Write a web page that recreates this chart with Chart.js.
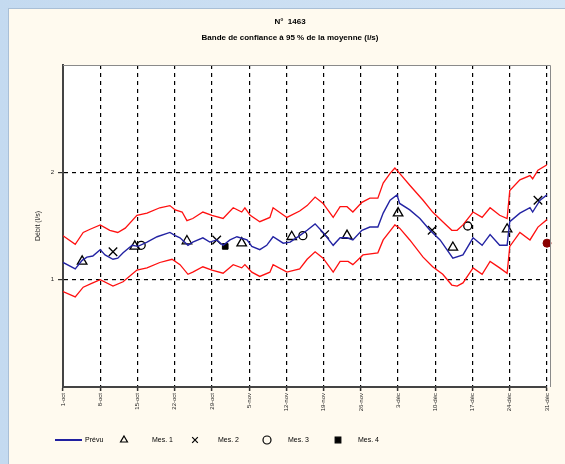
<!DOCTYPE html>
<html>
<head>
<meta charset="utf-8">
<script src="https://cdn.jsdelivr.net/npm/chart.js@4/dist/chart.umd.min.js"></script>
<style>
  html, body { margin: 0; padding: 0; width: 565px; height: 464px; overflow: hidden; }
  body { background: linear-gradient(90deg, #c4daf0, #d3e4f5); position: relative; }
  #panel { position: absolute; left: 8px; top: 8px; right: 0; bottom: 0;
           background: #fffaef; border-left: 1px solid #a9bfd6; border-top: 1px solid #a9bfd6; }
  #c { position: absolute; left: 0; top: 0; }
</style>
</head>
<body>
<div id="panel"></div>
<canvas id="c" width="565" height="464"></canvas>
<script>
// Title, axis and legend texts
const titleLines = ['N°  1463', 'Bande de confiance à 95 % de la moyenne (l/s)'];
const yTitle = 'Débit (l/s)';
const legendNames = ['Prévu', 'Mes. 1', 'Mes. 2', 'Mes. 3', 'Mes. 4'];

// Weekly date ticks (day offsets 0, 7, 14 ... 91)
const tickDays = [0, 7, 14, 21, 28, 35, 42, 49, 56, 63, 70, 77, 84, 91];
const tickLabels = ['1-oct', '8-oct', '15-oct', '22-oct', '29-oct', '5-nov', '12-nov',
                    '19-nov', '26-nov', '3-déc', '10-déc', '17-déc', '24-déc', '31-déc'];
const yTickValues = [1, 2];

// Mean curve: day offset and value
const meanDays = [0, 2.3, 3.6, 4.5, 5.6, 7, 7.9, 9.4, 10.3, 11.3, 13, 14.1, 15.8, 17.7, 20.1, 21.1, 22,
  23.5, 24.4, 26.3, 27.6, 28.9, 30.1, 31.4, 32.7, 34.6, 35.5, 37, 38.3, 39.5, 41.4, 42.7, 44.5, 45.9,
  47.4, 48.9, 50.8, 52.1, 53.4, 54.5, 56.2, 57.7, 59.2, 60.2, 61.5, 62.8, 63.3, 65.2, 67.1, 69, 70.9,
  73.3, 75.2, 77.1, 78.8, 80.3, 82.1, 83.5, 84, 85.9, 87.8, 88.3, 89.7, 91];
const meanVals = [1.16, 1.10, 1.18, 1.21, 1.22, 1.28, 1.23, 1.19, 1.20, 1.25, 1.32, 1.31, 1.35, 1.40,
  1.44, 1.41, 1.39, 1.32, 1.35, 1.39, 1.35, 1.37, 1.32, 1.37, 1.40, 1.37, 1.31, 1.28, 1.32, 1.40, 1.34,
  1.35, 1.41, 1.46, 1.52, 1.44, 1.32, 1.39, 1.39, 1.37, 1.46, 1.49, 1.49, 1.62, 1.74, 1.79, 1.71, 1.65,
  1.57, 1.46, 1.37, 1.20, 1.23, 1.39, 1.32, 1.42, 1.32, 1.32, 1.54, 1.62, 1.67, 1.63, 1.74, 1.79];

// Upper confidence bound
const upperDays = [0, 2.3, 3.8, 5.1, 7, 8.8, 10.3, 11.7, 13.9, 15.8, 18.2, 20.1, 21.1, 22.4, 23.3, 24.4,
  26.3, 28, 30.1, 32, 33.6, 34.2, 35.2, 37, 38.9, 39.5, 42.1, 44.5, 45.9, 47.4, 48.9, 50.8, 52.1, 53.4,
  54.5, 56.2, 57.7, 59.2, 60.2, 61.5, 62.4, 63.3, 65.2, 67.7, 69.5, 71.4, 73.1, 74.1, 75.2, 77.1, 78.8,
  80.3, 82.1, 83.5, 84, 85.9, 87.8, 88.3, 89.3, 91];
const upperVals = [1.41, 1.33, 1.44, 1.47, 1.51, 1.46, 1.44, 1.48, 1.60, 1.62, 1.67, 1.69, 1.65, 1.63,
  1.55, 1.57, 1.63, 1.60, 1.57, 1.67, 1.63, 1.67, 1.60, 1.54, 1.58, 1.67, 1.58, 1.64, 1.69, 1.77, 1.71,
  1.58, 1.68, 1.68, 1.63, 1.72, 1.76, 1.76, 1.90, 1.99, 2.04, 1.99, 1.88, 1.74, 1.63, 1.54, 1.46, 1.46,
  1.51, 1.63, 1.58, 1.67, 1.60, 1.57, 1.83, 1.93, 1.97, 1.94, 2.02, 2.07];

// Lower confidence bound
const lowerDays = [0, 2.3, 3.8, 5.6, 7, 9.4, 11.3, 13.9, 15.8, 18.2, 20.5, 22, 23.5, 24.4, 26.3, 28,
  30.1, 32, 33.6, 34.2, 35.5, 37, 38.9, 39.5, 42.1, 44.5, 45.9, 47.4, 48.9, 50.8, 52.1, 53.6, 54.5,
  56.4, 59.2, 60.2, 62.4, 63.3, 65.2, 67.7, 69.5, 71.4, 73.1, 74.1, 75.2, 77.1, 78.8, 80.3, 82.1, 83.5,
  84, 85.9, 87.8, 89.3, 91];
const lowerVals = [0.89, 0.84, 0.93, 0.97, 1.00, 0.94, 0.98, 1.09, 1.11, 1.16, 1.19, 1.14, 1.05, 1.07,
  1.12, 1.09, 1.06, 1.14, 1.11, 1.14, 1.07, 1.03, 1.07, 1.14, 1.07, 1.10, 1.19, 1.26, 1.20, 1.07, 1.17,
  1.17, 1.14, 1.23, 1.25, 1.37, 1.51, 1.48, 1.37, 1.21, 1.12, 1.05, 0.95, 0.94, 0.97, 1.11, 1.05, 1.17,
  1.11, 1.06, 1.31, 1.44, 1.37, 1.49, 1.56];

// Measured points
const triDays = [3.6, 13.5, 23.3, 33.6, 43.0, 53.4, 63.0, 73.3, 83.5];
const triVals = [1.17, 1.31, 1.36, 1.34, 1.40, 1.41, 1.62, 1.30, 1.47];
const crossDays = [9.4, 28.9, 49.2, 69.4, 89.3];
const crossVals = [1.26, 1.37, 1.42, 1.46, 1.74];
const circleDays = [14.7, 45.1, 76.1];
const circleVals = [1.32, 1.41, 1.50];
const squareDays = [30.5];
const squareVals = [1.31];
const lastDays = [91];
const lastVals = [1.34];

const pts = (xs, ys) => xs.map((x, i) => ({ x: x, y: ys[i] }));
const FONT = 'Liberation Sans, Arial, sans-serif';

const bandStyle = { borderColor: '#ff1010', borderWidth: 1.3, pointRadius: 0, tension: 0, fill: false };
const markStyle = { showLine: false, borderColor: '#000', borderWidth: 1.3, backgroundColor: 'rgba(255,255,255,0)' };

// Plot background, frame, titles and legend
const decor = {
  id: 'decor',
  beforeDraw(chart) {
    const { ctx, chartArea: a } = chart;
    ctx.save();
    ctx.fillStyle = '#ffffff';
    ctx.fillRect(a.left, a.top, a.right - a.left + 3, a.bottom - a.top);
    ctx.restore();
  },
  afterDraw(chart) {
    const { ctx, chartArea: a } = chart;
    ctx.save();
    ctx.strokeStyle = '#8a8a8a';
    ctx.lineWidth = 1;
    ctx.beginPath();
    ctx.moveTo(a.left, a.top + 0.5);
    ctx.lineTo(a.right + 3.5, a.top + 0.5);
    ctx.lineTo(a.right + 3.5, a.bottom);
    ctx.stroke();

    ctx.fillStyle = '#000';
    ctx.textAlign = 'center';
    ctx.textBaseline = 'middle';
    ctx.font = 'bold 8px ' + FONT;
    ctx.fillText(titleLines[0], 290, 22);
    ctx.fillText(titleLines[1], 290, 38);

    // legend
    const ly = 440;
    ctx.font = '7px ' + FONT;
    ctx.textAlign = 'left';
    ctx.strokeStyle = '#2020a0';
    ctx.lineWidth = 2;
    ctx.beginPath();
    ctx.moveTo(55, ly); ctx.lineTo(82, ly); ctx.stroke();
    ctx.fillText(legendNames[0], 85, ly);
    const items = [
      { style: 'triangle', x: 124, fill: false, name: legendNames[1], tx: 152 },
      { style: 'crossRot', x: 195, fill: false, name: legendNames[2], tx: 218 },
      { style: 'circle', x: 267, fill: false, name: legendNames[3], tx: 288 },
      { style: 'rect', x: 338, fill: true, name: legendNames[4], tx: 358 }
    ];
    items.forEach(it => {
      ctx.strokeStyle = '#000';
      ctx.fillStyle = it.fill ? '#000' : 'rgba(0,0,0,0)';
      ctx.lineWidth = 1.2;
      Chart.helpers.drawPoint(ctx, { pointStyle: it.style, radius: 4, rotation: 0, borderWidth: 1.2 }, it.x, ly);
      ctx.fillStyle = '#000';
      ctx.fillText(it.name, it.tx, ly);
    });
    ctx.restore();
  }
};

new Chart(document.getElementById('c'), {
  type: 'line',
  data: {
    datasets: [
      Object.assign({ label: 'haut', data: pts(upperDays, upperVals) }, bandStyle),
      Object.assign({ label: 'bas', data: pts(lowerDays, lowerVals) }, bandStyle),
      { label: legendNames[0], data: pts(meanDays, meanVals), borderColor: '#2323a3', borderWidth: 1.4,
        pointRadius: 0, tension: 0, fill: false },
      Object.assign({ label: legendNames[1], data: pts(triDays, triVals), pointStyle: 'triangle', pointRadius: 5.5 }, markStyle),
      Object.assign({ label: legendNames[2], data: pts(crossDays, crossVals), pointStyle: 'crossRot', pointRadius: 6 }, markStyle),
      Object.assign({ label: legendNames[3], data: pts(circleDays, circleVals), pointStyle: 'circle', pointRadius: 4 }, markStyle),
      { label: legendNames[4], data: pts(squareDays, squareVals), showLine: false, pointStyle: 'rect',
        pointRadius: 4, backgroundColor: '#000', borderColor: '#000' },
      { label: 'dernier', data: pts(lastDays, lastVals), showLine: false, pointStyle: 'circle', clip: false,
        pointRadius: 4, backgroundColor: '#8b0000', borderColor: '#8b0000' }
    ]
  },
  options: {
    responsive: false,
    animation: false,
    layout: { padding: { top: 65, right: 18, bottom: 0, left: 0 } },
    plugins: { legend: { display: false }, title: { display: false }, tooltip: { enabled: false } },
    scales: {
      x: {
        type: 'linear', min: 0, max: 91,
        afterBuildTicks(scale) { scale.ticks = tickDays.map(v => ({ value: v })); },
        afterFit(scale) { scale.height = 77; },
        ticks: {
          autoSkip: false, maxRotation: 90, minRotation: 90, padding: 2,
          font: { family: FONT, size: 6 }, color: '#222',
          callback: (v) => tickLabels[tickDays.indexOf(v)]
        },
        grid: {
          color: (c) => (c.tick && c.tick.value === 0) ? 'rgba(0,0,0,0)' : '#000',
          lineWidth: 1.2, tickLength: 4, tickColor: '#333', tickWidth: 1.5, tickBorderDash: []
        },
        border: { display: true, color: '#444', width: 2, dash: [4, 4] }
      },
      y: {
        min: 0, max: 3,
        afterBuildTicks(scale) { scale.ticks = [0, 1, 2, 3].map(v => ({ value: v })); },
        afterFit(scale) { scale.width = 63; },
        title: { display: true, text: yTitle, font: { family: FONT, size: 7 }, color: '#222', padding: { top: 34, bottom: 0 } },
        ticks: {
          padding: 4, font: { family: FONT, size: 6 }, color: '#222',
          callback: (v) => yTickValues.includes(v) ? String(v) : ''
        },
        grid: {
          color: (c) => (c.tick && yTickValues.includes(c.tick.value)) ? '#000' : 'rgba(0,0,0,0)',
          tickColor: (c) => (c.tick && yTickValues.includes(c.tick.value)) ? '#333' : 'rgba(0,0,0,0)',
          lineWidth: 1.2, tickLength: 5, tickBorderDash: []
        },
        border: { display: true, color: '#444', width: 2, dash: [4, 4] }
      }
    }
  },
  plugins: [decor]
});
</script>
</body>
</html>
